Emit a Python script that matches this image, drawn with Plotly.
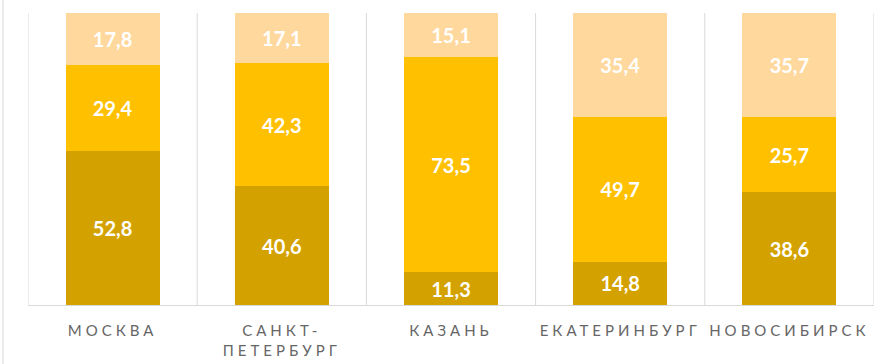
import plotly.graph_objects as go

categories = ["МОСКВА", "САНКТ-<br>ПЕТЕРБУРГ", "КАЗАНЬ", "ЕКАТЕРИНБУРГ", "НОВОСИБИРСК"]
bottom_vals = [52.8, 40.6, 11.3, 14.8, 38.6]
middle_vals = [29.4, 42.3, 73.5, 49.7, 25.7]
top_vals = [17.8, 17.1, 15.1, 35.4, 35.7]

colors = ["#D4A200", "#FFC000", "#FFD89E"]

def fmt(v):
    return f"{v:.1f}".replace(".", ",")

fig = go.Figure()
x = list(range(len(categories)))
for vals, col in zip([bottom_vals, middle_vals, top_vals], colors):
    fig.add_trace(go.Bar(
        x=x, y=vals, marker=dict(color=col, line=dict(width=0)),
        text=[fmt(v) for v in vals], textposition="inside",
        insidetextanchor="middle", textangle=0,
        textfont=dict(family="Lato", size=20, color="white", weight="bold"),
        constraintext="none", hoverinfo="skip",
    ))

ticktext = [f'<span style="letter-spacing:4px">{c}</span>' for c in categories]

fig.update_layout(
    barmode="stack", bargap=0.445,
    width=876, height=364,
    margin=dict(l=28, r=2, t=13, b=59),
    paper_bgcolor="white", plot_bgcolor="white",
    showlegend=False,
    xaxis=dict(tickmode="array", tickvals=x, ticktext=ticktext, automargin=False,
               range=[-0.5, 4.5], showgrid=False, zeroline=False,
               showline=True, linecolor="#D9D9D9", linewidth=1,
               ticks="outside", ticklen=12, tickcolor="rgba(0,0,0,0)",
               tickfont=dict(family="Lato", size=15, color="#666666")),
    yaxis=dict(range=[0, 100], visible=False, showgrid=False, zeroline=False, automargin=False),
)

for b in [-0.5, 0.5, 1.5, 2.5, 3.5, 4.5]:
    fig.add_shape(type="line", xref="x", yref="paper", x0=b, x1=b, y0=0, y1=1,
                  line=dict(color="#D9D9D9", width=1), layer="below")

fig.add_shape(type="line", xref="paper", yref="paper", x0=-25/846, x1=-25/846,
              y0=-59/292, y1=1+13/292, line=dict(color="#D9D9D9", width=1))

fig.write_html("out.html", config={"displayModeBar": False},
               post_script="document.body.style.margin='0';document.body.style.overflow='hidden';")
